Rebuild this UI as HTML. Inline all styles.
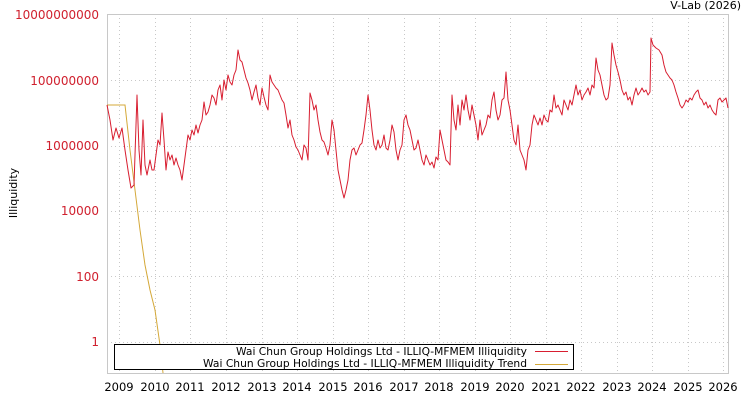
<!DOCTYPE html>
<html><head><style>
body{margin:0;background:#fff;width:750px;height:400px;overflow:hidden;font-family:"DejaVu Sans","Liberation Sans",sans-serif}
</style></head><body>
<svg width="750" height="400" xmlns="http://www.w3.org/2000/svg" font-family="DejaVu Sans, Liberation Sans, sans-serif">
<text x="741" y="9" font-size="11" text-anchor="end" fill="#000">V-Lab (2026)</text>
<g stroke="#c8c8c8" stroke-dasharray="1,3" stroke-width="1">
<line x1="107" x2="728" y1="80.5" y2="80.5"/><line x1="107" x2="728" y1="146.5" y2="146.5"/><line x1="107" x2="728" y1="211.5" y2="211.5"/><line x1="107" x2="728" y1="276.5" y2="276.5"/><line x1="107" x2="728" y1="342.5" y2="342.5"/>
<line x1="119.5" x2="119.5" y1="14" y2="373"/><line x1="155.5" x2="155.5" y1="14" y2="373"/><line x1="190.5" x2="190.5" y1="14" y2="373"/><line x1="226.5" x2="226.5" y1="14" y2="373"/><line x1="262.5" x2="262.5" y1="14" y2="373"/><line x1="297.5" x2="297.5" y1="14" y2="373"/><line x1="333.5" x2="333.5" y1="14" y2="373"/><line x1="368.5" x2="368.5" y1="14" y2="373"/><line x1="404.5" x2="404.5" y1="14" y2="373"/><line x1="439.5" x2="439.5" y1="14" y2="373"/><line x1="475.5" x2="475.5" y1="14" y2="373"/><line x1="510.5" x2="510.5" y1="14" y2="373"/><line x1="546.5" x2="546.5" y1="14" y2="373"/><line x1="581.5" x2="581.5" y1="14" y2="373"/><line x1="617.5" x2="617.5" y1="14" y2="373"/><line x1="652.5" x2="652.5" y1="14" y2="373"/><line x1="688.5" x2="688.5" y1="14" y2="373"/><line x1="723.5" x2="723.5" y1="14" y2="373"/>
</g>
<rect x="107.5" y="14.5" width="621" height="359" fill="none" stroke="#c8c8c8"/>
<g fill="#d0202e" font-size="12" text-anchor="end">
<text x="99" y="19">10000000000</text><text x="99" y="85">100000000</text><text x="99" y="150">1000000</text><text x="99" y="215">10000</text><text x="99" y="281">100</text><text x="99" y="346">1</text>
</g>
<text transform="translate(17,193) rotate(-90)" font-size="11" text-anchor="middle">Illiquidity</text>
<g font-size="11.5" text-anchor="middle" fill="#000">
<text x="119" y="391">2009</text><text x="155" y="391">2010</text><text x="190" y="391">2011</text><text x="226" y="391">2012</text><text x="262" y="391">2013</text><text x="297" y="391">2014</text><text x="333" y="391">2015</text><text x="368" y="391">2016</text><text x="404" y="391">2017</text><text x="439" y="391">2018</text><text x="475" y="391">2019</text><text x="510" y="391">2020</text><text x="546" y="391">2021</text><text x="581" y="391">2022</text><text x="617" y="391">2023</text><text x="652" y="391">2024</text><text x="688" y="391">2025</text><text x="723" y="391">2026</text>
</g>
<polyline fill="none" stroke="#d4a838" stroke-width="1" points="107,105 125,105 130,150 135,190 140,230 145,265 150,290 155,310 160,345 163,373"/>
<polyline fill="none" stroke="#d81e30" stroke-width="1" stroke-linejoin="round" points="107,105 110,120 113,140 116,128 119,138 122,128 125,150 128,170 131,188 134,185 137,95 139,150 141,175 143,120 145,165 147,175 150,160 152,170 154,170 156,155 158,140 160,145 162,113 164,140 166,170 168,152 170,160 172,155 174,165 176,158 178,165 180,170 182,180 184,165 186,150 188,135 190,140 192,130 194,135 196,125 198,133 200,125 202,120 204,102 206,115 208,112 210,105 212,95 214,98 216,105 218,90 220,85 222,100 224,80 226,90 228,75 230,82 232,85 234,75 236,70 238,50 240,60 242,62 244,70 246,78 248,83 250,90 252,100 254,92 256,85 258,98 260,105 262,88 264,97 266,105 268,110 270,75 272,82 274,85 276,88 278,90 280,95 282,100 284,103 286,115 288,128 290,120 292,135 294,140 296,147 298,150 300,155 302,160 304,145 306,148 308,160 310,93 312,100 314,110 316,105 318,120 320,132 322,140 324,142 326,148 328,155 330,145 332,120 334,130 336,150 338,170 340,180 342,190 344,198 346,190 348,180 350,160 352,150 354,148 356,155 358,150 360,145 362,143 364,130 366,115 368,95 370,110 372,130 374,145 376,150 378,140 380,148 382,145 384,135 386,148 388,150 390,140 392,125 394,132 396,150 398,160 400,150 402,145 404,120 406,115 408,125 410,130 412,140 414,150 416,148 418,140 420,150 422,160 424,165 426,155 428,160 430,165 432,162 434,168 436,157 438,160 440,130 442,140 444,150 446,160 448,162 450,165 452,95 454,120 456,130 458,105 460,125 462,100 464,110 466,95 468,110 470,120 472,105 474,115 476,125 478,140 480,120 482,135 484,130 486,125 488,115 490,118 492,100 494,92 496,110 498,120 500,115 502,100 504,98 506,72 508,100 510,110 512,125 514,140 516,145 518,125 520,150 522,155 524,160 526,170 528,150 530,145 532,125 534,115 536,120 538,125 540,118 542,125 544,115 546,120 548,122 550,110 552,112 554,95 556,108 558,105 560,110 562,115 564,100 566,105 568,110 570,100 572,105 574,95 576,85 578,95 580,90 582,100 584,95 586,92 588,88 590,95 592,85 594,88 596,58 598,70 600,75 602,85 604,95 606,100 608,98 610,85 612,43 614,55 616,65 618,72 620,80 622,90 624,95 626,92 628,100 630,97 632,105 634,95 636,88 638,95 640,92 642,88 644,92 646,90 648,95 650,92 651,38 653,45 656,48 659,50 662,55 664,65 666,72 668,75 670,78 672,80 674,85 676,92 678,98 680,105 682,108 684,105 686,100 688,102 690,98 692,100 694,95 696,92 698,90 700,98 702,100 704,105 706,102 708,108 710,105 712,110 714,113 716,115 718,100 720,98 722,102 724,100 726,98 728,108"/>
<rect x="114.5" y="344.5" width="459" height="25" fill="#fff" stroke="#000"/>
<g font-size="11" fill="#000">
<text x="236" y="355" textLength="291" lengthAdjust="spacingAndGlyphs">Wai Chun Group Holdings Ltd - ILLIQ-MFMEM Illiquidity</text>
<text x="203" y="367" textLength="324" lengthAdjust="spacingAndGlyphs">Wai Chun Group Holdings Ltd - ILLIQ-MFMEM Illiquidity Trend</text>
</g>
<line x1="535" x2="568" y1="351.5" y2="351.5" stroke="#d81e30"/>
<line x1="535" x2="568" y1="364.5" y2="364.5" stroke="#d4a838"/>
</svg>
</body></html>
